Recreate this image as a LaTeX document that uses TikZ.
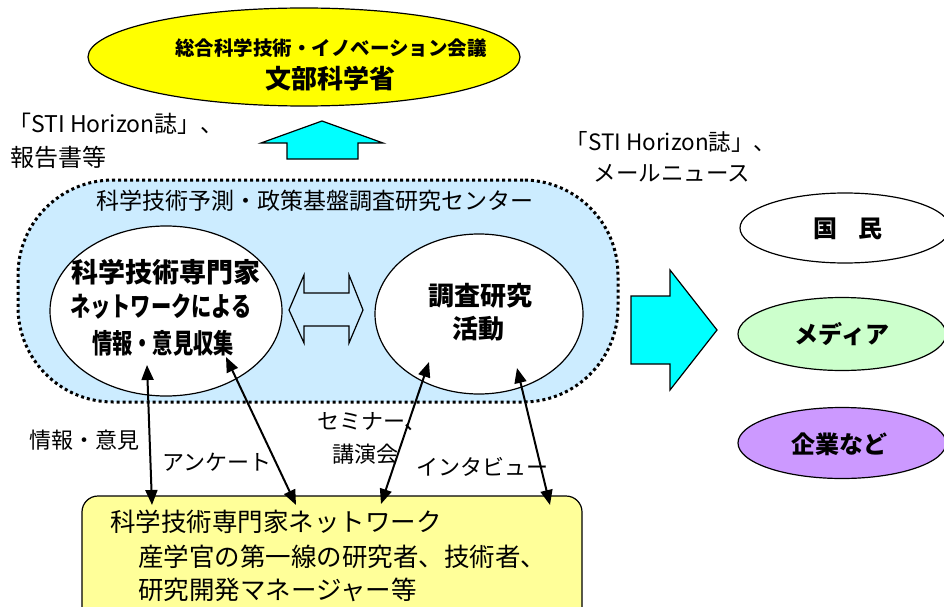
\documentclass[tikz,border=0pt]{standalone}
\usepackage{fontspec}
\usepackage{graphicx}
\setmainfont{Noto Sans CJK JP}
\usetikzlibrary{shapes.geometric,arrows.meta}
\definecolor{cyanA}{HTML}{00FFFF}
\definecolor{bgblue}{HTML}{CCECFF}
\definecolor{yelA}{HTML}{FFFF00}
\definecolor{lyel}{HTML}{FFFF99}
\definecolor{lgreen}{HTML}{CCFFCC}
\definecolor{lpurple}{HTML}{CC99FF}
\newcommand{\myfs}[1]{\fontsize{#1}{#1}\selectfont}
\tikzset{
  ell/.style={ellipse, draw=black, line width=1.2pt, inner sep=0pt},
  blockarrow/.style={draw=black, line width=1.2pt, fill=cyanA, line join=miter},
  dbl/.style={{Triangle[length=15pt,width=12pt]}-{Triangle[length=15pt,width=12pt]}, line width=2pt},
  lbl/.style={inner sep=0pt, font=\myfs{22}},
}
\begin{document}
\begin{tikzpicture}[x=1pt,y=-1pt]
\useasboundingbox (0,0) rectangle (944,607);
% top ellipse
\node[ell, fill=yelA, minimum width=432pt, minimum height=98pt] (top) at (304,57) {};
\node[inner sep=0pt, font=\bfseries\myfs{19.5}] (topA) at (331,48) {総合科学技術・イノベーション会議};
\node[inner sep=0pt, font=\bfseries\myfs{26}] (topB) at (330,79) {文部科学省};
% up arrow
\draw[blockarrow] (322,121) -- (383,143) -- (358,143) -- (358,159) -- (287,159) -- (287,143) -- (261,143) -- cycle;
% left text
\node[inner sep=0pt, anchor=west, font=\myfs{23}] (lt1) at (8,124) {「STI Horizon誌」、};
\node[inner sep=0pt, anchor=west, font=\myfs{24}] (lt2) at (10,157) {報告書等};
% right text
\node[inner sep=0pt, font=\myfs{22.5}] (rt1) at (671,142) {「STI Horizon誌」、};
\node[inner sep=0pt, font=\myfs{22.5}] (rt2) at (672,173) {メールニュース};
% container
\node[draw=black, fill=bgblue, line width=3pt, dash pattern=on 3pt off 3pt, rounded corners=95pt,
      minimum width=600pt, minimum height=222pt, inner sep=0pt] (ctr) at (318,291) {};
\node[inner sep=0pt, font=\myfs{23}] (ctrT) at (315,201) {科学技術予測・政策基盤調査研究センター};
% inner ellipses
\node[ell, fill=white, minimum width=232pt, minimum height=170pt] (L) at (166,311) {};
\node[inner sep=0pt, font=\bfseries\myfs{27}] (L1) at (166,272) {科学技術専門家};
\node[inner sep=0pt, font=\bfseries\myfs{27}] (L2) at (161,307) {\scalebox{0.75}[1]{ネットワークによる}};
\node[inner sep=0pt, font=\bfseries\myfs{27}] (L3) at (163,343) {\scalebox{0.75}[1]{情報・意見収集}};
\node[ell, fill=white, minimum width=208pt, minimum height=160pt] (R) at (479,314) {};
\node[inner sep=0pt, font=\bfseries\myfs{26}] (R1) at (480,296) {調査研究};
\node[inner sep=0pt, font=\bfseries\myfs{26}] (R2) at (478,329) {活動};
% hollow double arrow
\draw[line width=1.2pt, fill=bgblue, line join=miter] (289,310) -- (304,275) -- (304,293) -- (349,293) -- (349,275) -- (363,310)
  -- (349,343) -- (349,326) -- (304,326) -- (304,343) -- cycle;
% right block arrow
\draw[blockarrow] (631,296) -- (670,296) -- (670,270) -- (717,330) -- (670,390) -- (670,364) -- (631,364) -- cycle;
% right ellipses
\node[ell, fill=white, minimum width=210pt, minimum height=70pt] (kokumin) at (845,228) {};
\node[inner sep=0pt, font=\bfseries\myfs{24}] (kokuminT) at (848,229) {国\hspace{0.9em}民};
\node[ell, fill=lgreen, minimum width=208pt, minimum height=73pt] (media) at (842,334) {};
\node[inner sep=0pt, font=\bfseries\myfs{24}] (mediaT) at (842,334) {メディア};
\node[ell, fill=lpurple, minimum width=208pt, minimum height=71pt] (kigyo) at (842,443) {};
\node[inner sep=0pt, font=\bfseries\myfs{24}] (kigyoT) at (839,444) {企業など};
% bottom box
\node[draw=black, line width=1.2pt, fill=lyel, rounded corners=16pt, minimum width=500pt, minimum height=130pt, inner sep=0pt] (net) at (332,561) {};
\node[inner sep=0pt, anchor=west, font=\myfs{25.5}] (n1) at (110,522) {科学技術専門家ネットワーク};
\node[inner sep=0pt, anchor=west, font=\myfs{25.5}] (n2) at (138,557) {産学官の第一線の研究者、技術者、};
\node[inner sep=0pt, anchor=west, font=\myfs{25.5}] (n3) at (138,590) {研究開発マネージャー等};
% labels
\node[lbl, anchor=west] (lab1) at (29,440) {情報・意見};
\node[lbl, anchor=west] (lab2) at (162,462) {アンケート};
\node[lbl, anchor=west] (lab3) at (317,422) {セミナー、};
\node[lbl, anchor=west] (lab4) at (332,454) {講演会};
\node[lbl, anchor=west] (lab5) at (416,467) {インタビュー};
% connector end points
\coordinate (a1t) at (147,365); \coordinate (a1b) at (152,505);
\coordinate (a2t) at (226,357); \coordinate (a2b) at (296,505);
\coordinate (a3t) at (429,362); \coordinate (a3b) at (381,504);
\coordinate (a4t) at (517,368); \coordinate (a4b) at (550,505);
\draw[dbl] (a1t) -- (a1b);
\draw[dbl] (a2t) -- (a2b);
\draw[dbl] (a3t) -- (a3b);
\draw[dbl] (a4t) -- (a4b);
\end{tikzpicture}
\end{document}
